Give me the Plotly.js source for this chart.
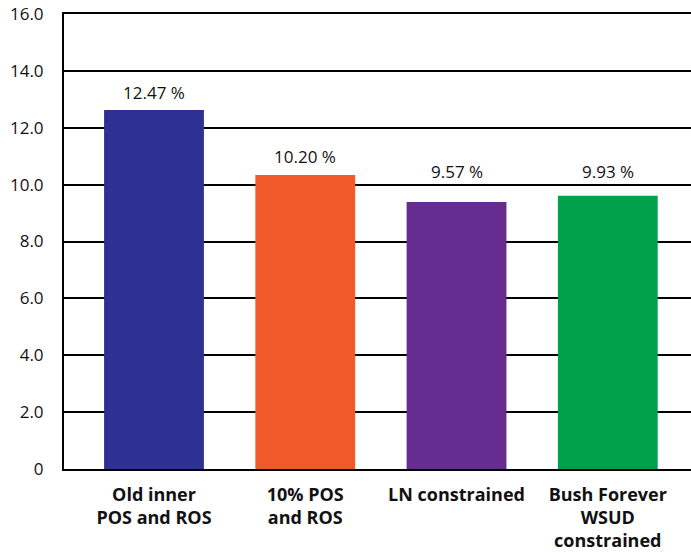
<!DOCTYPE html>
<html>
<head>
<meta charset="utf-8">
<script src="https://cdn.plot.ly/plotly-3.0.1.min.js"></script>
<style>html,body{margin:0;padding:0;background:#fff;overflow:hidden;}#chart{width:694px;height:554px;}</style>
</head>
<body>
<div id="chart"></div>
<script>
var categories = ["Old inner<br>POS and ROS", "10% POS<br>and ROS", "LN constrained", "Bush Forever<br>WSUD<br>constrained"];
var barValues = [12.62, 10.34, 9.39, 9.61];
var barLabels = ["12.47 %", "10.20 %", "9.57 %", "9.93 %"];
var barColors = ["#2E3192", "#F15A2B", "#662D91", "#00A14B"];
var labelLift = [4, 5, 17, 11];
var yTickVals = [0, 2, 4, 6, 8, 10, 12, 14, 16];
var yTickText = ["0", "2.0", "4.0", "6.0", "8.0", "10.0", "12.0", "14.0", "16.0"];

var font = "Open Sans, Noto Sans, sans-serif";
var ink = "#111111";

var trace = {
  type: "bar",
  x: categories,
  y: barValues,
  marker: {color: barColors, line: {width: 0}},
  width: 0.66,
  hoverinfo: "none"
};

var annotations = categories.map(function(c, i) {
  return {
    x: c, y: barValues[i], xref: "x", yref: "y",
    text: barLabels[i], showarrow: false,
    yanchor: "bottom", yshift: labelLift[i],
    font: {family: font, size: 17, color: ink}
  };
});

var layout = {
  width: 694, height: 554,
  margin: {l: 64, r: 0, t: 14, b: 85, pad: 0},
  paper_bgcolor: "#fff", plot_bgcolor: "#fff",
  showlegend: false,
  font: {family: font, color: ink},
  xaxis: {
    type: "category",
    range: [-0.595, 3.57],
    showgrid: false,
    showline: true, linecolor: "#000", linewidth: 2, mirror: true,
    ticks: "",
    ticklabelstandoff: 8,
    tickfont: {family: font, size: 18, color: ink, weight: "bold"},
    fixedrange: true
  },
  yaxis: {
    range: [0, 16],
    tickvals: yTickVals, ticktext: yTickText,
    showgrid: true, gridcolor: "#000", gridwidth: 2,
    zeroline: false,
    showline: true, linecolor: "#000", linewidth: 2,
    ticks: "",
    ticklabelstandoff: 15,
    tickfont: {family: font, size: 17, color: ink},
    fixedrange: true
  },
  annotations: annotations,
  bargap: 0.34
};

Plotly.newPlot("chart", [trace], layout, {displayModeBar: false, staticPlot: true});
</script>
</body>
</html>
